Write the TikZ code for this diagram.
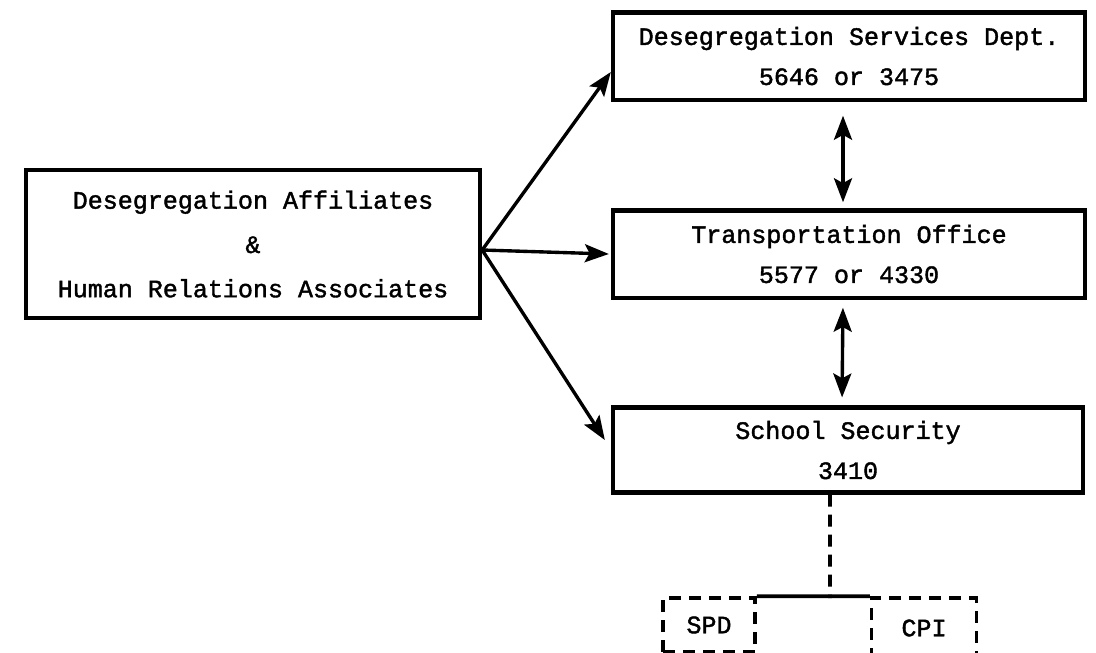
\documentclass[tikz,border=0pt]{standalone}
\usepackage{fontspec}
\setmonofont[BoldFont=Liberation Mono, BoldFeatures={FakeBold=1.6}]{Liberation Mono}
\usetikzlibrary{arrows.meta}
\usetikzlibrary{positioning}
\usetikzlibrary{calc}

\begin{document}
\begin{tikzpicture}[
    x=0.025cm, y=-0.025cm,
    font=\ttfamily\bfseries\fontsize{17.8}{28.5}\selectfont,
    unitbox/.style={rectangle, draw=black, line width=3pt, inner sep=0pt,
               align=center, minimum width=11.8cm, minimum height=2.18cm},
    subbox/.style={rectangle, draw=black, line width=2.6pt, inner sep=0pt,
               dash pattern=on 0.3cm off 0.2cm, minimum height=1.35cm},
    arrow/.style={-{Stealth[length=0.6cm, width=0.45cm, inset=0.12cm]}, line width=2.4pt},
    twoway/.style={{Stealth[length=0.6cm, width=0.45cm, inset=0.12cm]}-{Stealth[length=0.6cm, width=0.45cm, inset=0.12cm]}, line width=2.4pt},
    dashed_link/.style={line width=2.8pt, dash pattern=on 0.3cm off 0.2cm}
]
\useasboundingbox (0,0) rectangle (1096,652);

% Liaison staff
\node[unitbox, minimum width=11.35cm, minimum height=3.7cm] (affiliates) at (253,244)
    {Desegregation Affiliates\\[3pt] \&\\[3pt] Human Relations Associates};

% Contact offices
\node[unitbox] (desegdept) at (849,56) {Desegregation Services Dept.\\5646 or 3475};
\node[unitbox] (transport) at (849,254) {Transportation Office\\5577 or 4330};
\node[unitbox, minimum width=11.75cm, minimum height=2.12cm] (security) at (848,450) {School Security\\3410};

% Police units
\node[subbox, minimum width=2.3cm] (spd) at (709,625) {SPD};
\node[subbox, minimum width=2.62cm, minimum height=1.5cm] (cpi) at (924,628) {CPI};
\coordinate (fork) at ([yshift=-0.15cm]affiliates.east);
\coordinate (branch) at (830,598);

% Arrows
\draw[arrow] (fork) -- ([yshift=-0.4cm]desegdept.west);
\draw[arrow] (fork) -- ([xshift=-0.05cm]transport.west);
\draw[arrow] (fork) -- ([xshift=-0.15cm, yshift=0.25cm]security.west);

\draw[twoway, shorten <=0.35cm, shorten >=0.15cm] ([xshift=-0.15cm]desegdept.south) -- ([xshift=-0.15cm]transport.north);
\draw[twoway, shorten <=0.2cm, shorten >=0.2cm] ([xshift=-0.15cm]transport.south) -- ([xshift=-0.15cm]security.north);

\draw[dashed_link] ([xshift=-0.45cm]security.south) -- (branch);
\draw[line width=2.6pt] (spd.north east) -- (cpi.north west);

\end{tikzpicture}
\end{document}
